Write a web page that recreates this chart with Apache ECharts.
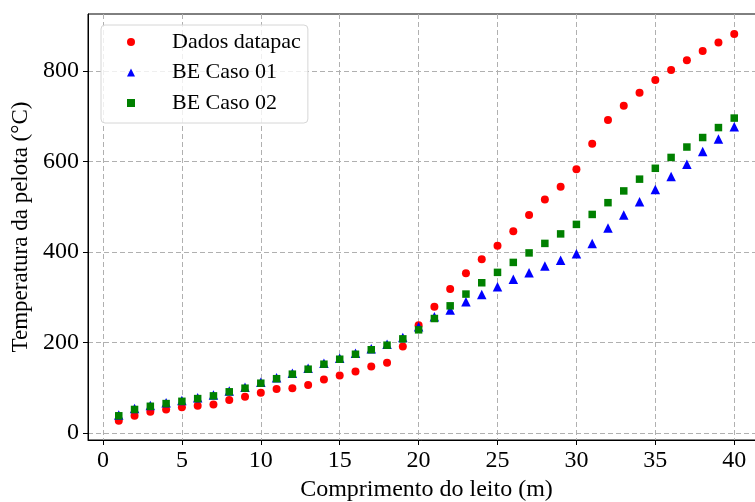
<!DOCTYPE html>
<html><head><meta charset="utf-8">
<script src="https://cdn.jsdelivr.net/npm/echarts@6/dist/echarts.min.js"></script>
<style>html,body{margin:0;padding:0;background:#fff}#c{width:755px;height:502px}</style>
</head><body><div id="c"></div>
<script>
const xValues = [1,2,3,4,5,6,7,8,9,10,11,12,13,14,15,16,17,18,19,20,21,22,23,24,25,26,27,28,29,30,31,32,33,34,35,36,37,38,39,40];
const dadosDatapac = [27,38,47,52,57,60,63,73,80,89,97,99,106,118,127,136,147,155,191,238,279,318,353,384,414,446,482,516,544,583,639,692,723,752,780,802,824,844,863,882];
const beCaso01 = [40,54,61,67,72,78,84,93,101,112,122,132,143,154,165,176,186,196,211,235,257,272,290,306,323,340,354,369,382,396,419,453,482,511,538,567,594,622,650,677];
const beCaso02 = [38,52,59,65,70,76,82,91,99,110,120,130,141,152,163,174,184,194,208,228,253,281,307,332,355,377,398,419,440,461,483,509,535,561,585,609,632,653,675,696];
const xTicks = [0,5,10,15,20,25,30,35,40];
const yTicks = [0,200,400,600,800];
const seriesNames = ['Dados datapac','BE Caso 01','BE Caso 02'];

const font = 'Liberation Serif';
const pair = (ys) => xValues.map((x,i)=>[x, ys[i]]);
const chart = echarts.init(document.getElementById('c'), null, {renderer:'canvas'});
const gridLine = {show:true, lineStyle:{color:'#b0b0b0', type:[5,3], width:1}};
chart.setOption({
  animation:false,
  backgroundColor:'#fff',
  grid:{left:88, top:14, width:677, height:426, show:true, borderColor:'#000', borderWidth:1, containLabel:false, outerBoundsMode:'none'},
  legend:{
    orient:'vertical', left:101, top:25,
    data:seriesNames,
    backgroundColor:'rgba(255,255,255,0.8)', borderColor:'#d6d6d6', borderWidth:1, borderRadius:4,
    padding:[6,7,9,26],
    itemWidth:8, itemHeight:8, itemGap:8.5, symbolKeepAspect:true,
    textStyle:{fontFamily:font, fontSize:22, color:'#000', lineHeight:22, padding:[0,0,0,32]}
  },
  xAxis:{
    type:'value', min:-0.95, max:41.95,
    name:'Comprimento do leito (m)', nameLocation:'middle', nameGap:38,
    nameTextStyle:{fontFamily:font, fontSize:24, color:'#000'},
    axisLine:{show:true, onZero:false, lineStyle:{color:'#000', width:1}},
    axisTick:{show:true, inside:false, length:5, lineStyle:{color:'#000'}, customValues:xTicks},
    axisLabel:{fontFamily:font, fontSize:24, color:'#000', margin:9, customValues:xTicks},
    splitLine:gridLine
  },
  yAxis:{
    type:'value', min:-15.5, max:926,
    name:'Temperatura da pelota (°C)', nameLocation:'middle', nameGap:50,
    nameTextStyle:{fontFamily:font, fontSize:23, color:'#000'},
    axisLine:{show:true, onZero:false, lineStyle:{color:'#000', width:1}},
    axisTick:{show:true, inside:false, length:5, lineStyle:{color:'#000'}, customValues:yTicks},
    axisLabel:{fontFamily:font, fontSize:24, color:'#000', margin:9, customValues:yTicks},
    splitLine:gridLine
  },
  series:[
    {name:seriesNames[0], type:'scatter', symbol:'circle', symbolSize:8, itemStyle:{color:'#ff0000', opacity:1}, data:pair(dadosDatapac), z:2},
    {name:seriesNames[1], type:'scatter', symbol:'triangle', symbolSize:9.5, itemStyle:{color:'#0000ff', opacity:1}, data:pair(beCaso01), z:3},
    {name:seriesNames[2], type:'scatter', symbol:'rect', symbolSize:7.5, itemStyle:{color:'#008000', opacity:1}, data:pair(beCaso02), z:4}
  ]
});
</script></body></html>
